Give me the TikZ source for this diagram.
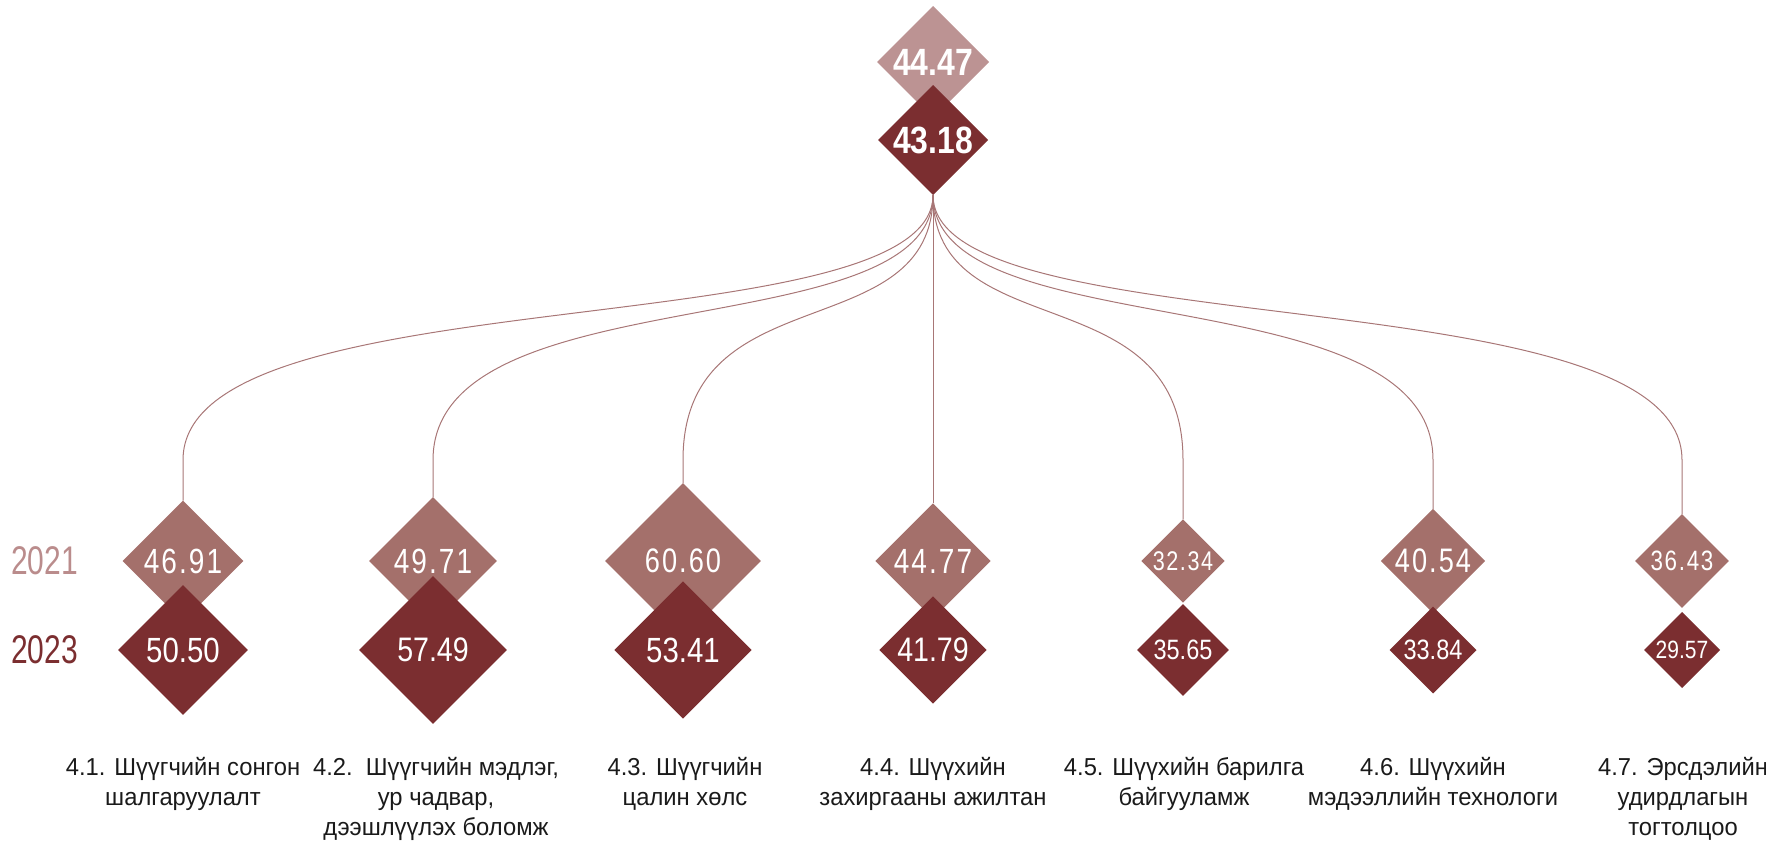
\documentclass[tikz,border=0pt]{standalone}
\usepackage{fontspec}
\setmainfont{Liberation Sans}
\newfontfamily\numA[FakeStretch=0.8,LetterSpace=6]{Liberation Sans}
\newfontfamily\numB[FakeStretch=0.84]{Liberation Sans}
\newfontfamily\labf[FakeStretch=0.97]{Liberation Sans}
\newfontfamily\yearf[FakeStretch=0.75]{Liberation Sans}
\usetikzlibrary{shapes.geometric}
\definecolor{lightd}{HTML}{A4706B}
\definecolor{topl}{HTML}{BC9393}
\definecolor{darkd}{HTML}{7B2E30}
\definecolor{linkc}{HTML}{A87676}
\definecolor{y21}{HTML}{BA8C8C}
\definecolor{txt}{HTML}{1A1A1A}
\tikzset{
  dia/.style={shape=diamond, inner sep=0pt, outer sep=0pt, minimum width=#1, minimum height=#1},
  ldia/.style={dia=#1, fill=lightd},
  ddia/.style={dia=#1, fill=darkd},
  ntxt/.style={text=white, inner sep=0pt},
  link/.style={draw=linkc, line width=1pt},
  cat/.style={anchor=north, align=center, text=txt, inner sep=0pt, font=\labf\fontsize{24.5}{30}\selectfont},
  yr/.style={anchor=west, inner sep=0pt, font=\yearf\fontsize{40}{40}\selectfont}
}
\begin{document}
\begin{tikzpicture}[x=1pt,y=-1pt]
\useasboundingbox (0,0) rectangle (1766,841);
% top
\node[dia=112, fill=topl] (T1) at (933,62) {};
\node[dia=110, fill=darkd] (T2) at (933,140) {};
\node[ntxt, font=\bfseries\numB\fontsize{38}{38}\selectfont] (tT1) at (T1) {44.47};
\node[ntxt, font=\bfseries\numB\fontsize{38}{38}\selectfont] (tT2) at (T2) {43.18};
% 2021 row
\node[ldia=2.57*46.91] (L1) at (183,561) {};
\node[ldia=2.57*49.71] (L2) at (433,561) {};
\node[ldia=2.57*60.60] (L3) at (683,561) {};
\node[ldia=2.57*44.77] (L4) at (933,561) {};
\node[ldia=2.57*32.34] (L5) at (1183,561) {};
\node[ldia=2.57*40.54] (L6) at (1433,561) {};
\node[ldia=2.57*36.43] (L7) at (1682,561) {};
% 2023 row
\node[ddia=2.57*50.50] (D1) at (183,650) {};
\node[ddia=2.57*57.49] (D2) at (433,650) {};
\node[ddia=2.57*53.41] (D3) at (683,650) {};
\node[ddia=2.57*41.79] (D4) at (933,650) {};
\node[ddia=2.57*35.65] (D5) at (1183,650) {};
\node[ddia=2.57*33.84] (D6) at (1433,650) {};
\node[ddia=2.57*29.57] (D7) at (1682,650) {};
% numbers
\node[ntxt, font=\numA\fontsize{35}{35}\selectfont] (tL1) at (L1) {46.91};
\node[ntxt, font=\numA\fontsize{35}{35}\selectfont] (tL2) at (L2) {49.71};
\node[ntxt, font=\numA\fontsize{34}{34}\selectfont] (tL3) at (L3) {60.60};
\node[ntxt, font=\numA\fontsize{35}{35}\selectfont] (tL4) at (L4) {44.77};
\node[ntxt, font=\numA\fontsize{27}{27}\selectfont] (tL5) at (L5) {32.34};
\node[ntxt, font=\numA\fontsize{34}{34}\selectfont] (tL6) at (L6) {40.54};
\node[ntxt, font=\numA\fontsize{28}{28}\selectfont] (tL7) at (L7) {36.43};
\node[ntxt, font=\numB\fontsize{35}{35}\selectfont] (tD1) at (D1) {50.50};
\node[ntxt, font=\numB\fontsize{34}{34}\selectfont] (tD2) at (D2) {57.49};
\node[ntxt, font=\numB\fontsize{35}{35}\selectfont] (tD3) at (D3) {53.41};
\node[ntxt, font=\numB\fontsize{34}{34}\selectfont] (tD4) at (D4) {41.79};
\node[ntxt, font=\numB\fontsize{28}{28}\selectfont] (tD5) at (D5) {35.65};
\node[ntxt, font=\numB\fontsize{28}{28}\selectfont] (tD6) at (D6) {33.84};
\node[ntxt, font=\numB\fontsize{25}{25}\selectfont] (tD7) at (D7) {29.57};
% links
\coordinate (k1) at (183,460);
\coordinate (k2) at (433,460);
\coordinate (k3) at (683,460);
\coordinate (k5) at (1183,460);
\coordinate (k6) at (1433,460);
\coordinate (k7) at (1682,460);
\draw[link] (T2.south) .. controls +(0,154) and +(0,-187) .. (k1) -- (L1.north);
\draw[link] (T2.south) .. controls +(0,154) and +(0,-187) .. (k2) -- (L2.north);
\draw[link] (T2.south) .. controls +(0,154) and +(0,-187) .. (k3) -- (L3.north);
\draw[link] (T2.south) -- (L4.north);
\draw[link] (T2.south) .. controls +(0,154) and +(0,-187) .. (k5) -- (L5.north);
\draw[link] (T2.south) .. controls +(0,154) and +(0,-187) .. (k6) -- (L6.north);
\draw[link] (T2.south) .. controls +(0,154) and +(0,-187) .. (k7) -- (L7.north);
% years
\node[yr, text=y21] (y1) at (11,561) {2021};
\node[yr, text=darkd] (y2) at (11,650) {2023};
% categories
\node[cat] (c1) at (183,757) {4.1. Шүүгчийн сонгон\\шалгаруулалт};
\node[cat] (c2) at (436,757) {4.2.\ \ Шүүгчийн мэдлэг,\\ур чадвар,\\дээшлүүлэх боломж};
\node[cat] (c3) at (685,757) {4.3. Шүүгчийн\\цалин хөлс};
\node[cat] (c4) at (933,757) {4.4. Шүүхийн\\захиргааны ажилтан};
\node[cat] (c5) at (1184,757) {4.5. Шүүхийн барилга\\байгууламж};
\node[cat] (c6) at (1433,757) {4.6. Шүүхийн\\мэдээллийн технологи};
\node[cat] (c7) at (1683,757) {4.7. Эрсдэлийн\\удирдлагын\\тогтолцоо};
\end{tikzpicture}
\end{document}
